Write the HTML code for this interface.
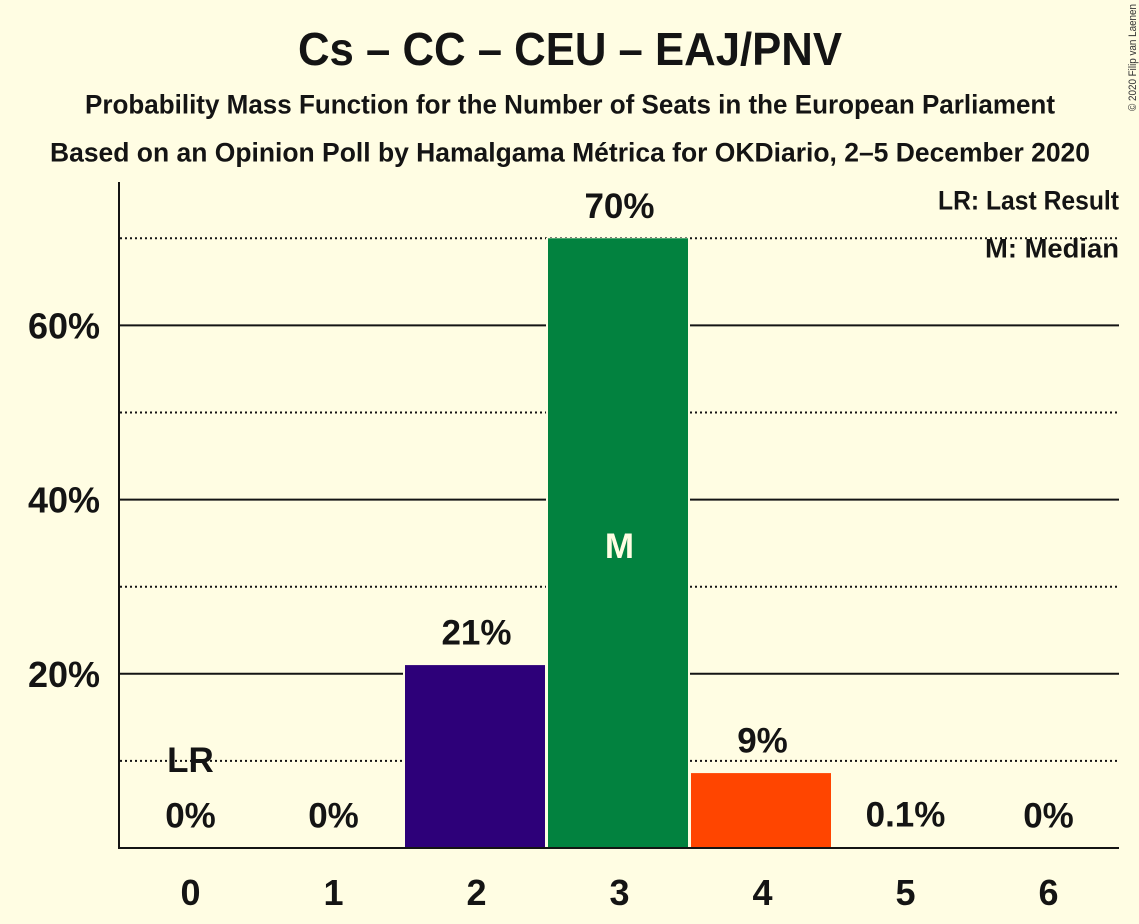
<!DOCTYPE html>
<html lang="en">
<head>
<meta charset="utf-8">
<title>Cs – CC – CEU – EAJ/PNV</title>
<style>
html,body{margin:0;padding:0;background:#fffde3;width:1139px;height:924px;overflow:hidden}
svg{display:block;font-family:"Liberation Sans",sans-serif;font-weight:bold}
text{fill:#141414}
</style>
</head>
<body>
<svg id="chart" xmlns="http://www.w3.org/2000/svg" width="1139" height="924" viewBox="0 0 1139 924">
<rect x="0" y="0" width="1139" height="924" fill="#fffde3"/>
<text x="570" y="65" text-anchor="middle" font-size="46" textLength="544" lengthAdjust="spacingAndGlyphs">Cs – CC – CEU – EAJ/PNV</text>
<text x="570" y="113.5" text-anchor="middle" font-size="27" textLength="970" lengthAdjust="spacingAndGlyphs">Probability Mass Function for the Number of Seats in the European Parliament</text>
<text x="570" y="161.5" text-anchor="middle" font-size="27" textLength="1040" lengthAdjust="spacingAndGlyphs">Based on an Opinion Poll by Hamalgama Métrica for OKDiario, 2–5 December 2020</text>
<text transform="translate(1136,111) rotate(-90)" font-size="11" textLength="107" lengthAdjust="spacingAndGlyphs" style="font-weight:normal;fill:#333">© 2020 Filip van Laenen</text>
<g id="plot"></g>
<text x="1119" y="209.5" text-anchor="end" font-size="27" textLength="181" lengthAdjust="spacingAndGlyphs">LR: Last Result</text>
<text x="1119" y="257.5" text-anchor="end" font-size="27" textLength="134" lengthAdjust="spacingAndGlyphs">M: Median</text>
</svg>
<script>
const categories = ['0', '1', '2', '3', '4', '5', '6'];
const seatProbabilities = [0, 0, 21, 70, 8.6, 0.1, 0];
const printedValues = ['0%', '0%', '21%', '70%', '9%', '0.1%', '0%'];
const barColors = ['#2d0079', '#2d0079', '#2d0079', '#02823f', '#ff4500', '#ff4500', '#ff4500'];
const majorTicks = [20, 40, 60];
const majorTickLabels = ['20%', '40%', '60%'];
const minorTicks = [10, 30, 50, 70];
const lastResultCategory = '0';
const medianCategory = '3';

const NS = 'http://www.w3.org/2000/svg';
const plot = document.getElementById('plot');
const bg = '#fffde3';
const xScale = i => 190.5 + 143 * i;
const yScale = v => 848 - 8.71 * v;
const barOffset = -71.5;
const barWidth = 140;

function add(tag, attrs, text) {
  const el = document.createElementNS(NS, tag);
  for (const k in attrs) el.setAttribute(k, attrs[k]);
  if (text !== undefined) el.textContent = text;
  plot.appendChild(el);
  return el;
}

minorTicks.forEach(t => {
  const el = add('line', {x1: 120, x2: 1119, y1: yScale(t), y2: yScale(t), stroke: '#141414', 'stroke-width': 2, 'stroke-dasharray': '2 3'});
  
  
});
majorTicks.forEach((t, i) => {
  const line = add('line', {x1: 119, x2: 1119, y1: yScale(t), y2: yScale(t), stroke: '#141414', 'stroke-width': 2});
  
  
  const label = add('text', {x: 100, y: yScale(t) + 13, 'text-anchor': 'end', 'font-size': 36}, majorTickLabels[i]);
  
  
});

seatProbabilities.forEach((v, i) => {
  const left = xScale(i) + barOffset;
  if (v > 0) {
    const halo = add('rect', {x: left - 2, y: yScale(v) - 0.5, width: barWidth + 4, height: 848 - yScale(v) + 0.5, fill: bg});
    
    
    const bar = add('rect', {x: left, y: yScale(v), width: barWidth, height: 848 - yScale(v), fill: barColors[i]});
    
    
  }
});

seatProbabilities.forEach((v, i) => {
  const valueLabel = add('text', {x: xScale(i), y: yScale(v) - 20.5, 'text-anchor': 'middle', 'font-size': 35}, printedValues[i]);
  
  
  const tick = add('text', {x: xScale(i), y: 905, 'text-anchor': 'middle', 'font-size': 36}, categories[i]);
  
  
  if (categories[i] === lastResultCategory) {
    const lr = add('text', {x: xScale(i), y: 772, 'text-anchor': 'middle', 'font-size': 35}, 'LR');
    
    
  }
  if (categories[i] === medianCategory) {
    const m = add('text', {x: xScale(i), y: yScale(v / 2) + 15, 'text-anchor': 'middle', 'font-size': 35, style: 'fill:#fffde3'}, 'M');
    
    
  }
});

const yAxis = add('line', {x1: 119, x2: 119, y1: 182, y2: 849, stroke: '#141414', 'stroke-width': 2});


const xAxis = add('line', {x1: 118, x2: 1119, y1: 848, y2: 848, stroke: '#141414', 'stroke-width': 2});


</script>
</body>
</html>
